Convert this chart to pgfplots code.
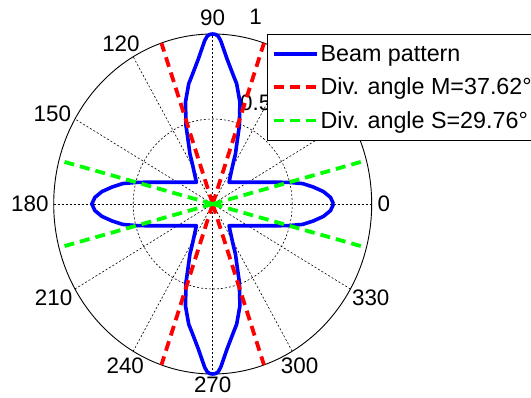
\documentclass[border=0pt]{standalone}
\usepackage{pgfplots}
\pgfplotsset{compat=1.18}
\usepackage{fontspec}
\setmainfont{Liberation Sans}
\newcommand{\lblfont}{\fontsize{22.4}{27}\selectfont}
\newcommand{\legfont}{\fontsize{23.3}{28}\selectfont}
\begin{document}
\begin{tikzpicture}
\begin{axis}[
  anchor=origin, at={(0pt,0pt)},
  x=159pt, y=170pt,
  xmin=-1, xmax=1, ymin=-1, ymax=1,
  hide axis, clip=false,
  legend style={at={(0.672,1.0)}, anchor=north west, draw=black, line width=0.8pt,
    fill=white, font=\legfont, inner xsep=4pt, inner ysep=9pt, row sep=11pt},
  legend cell align=left,
  legend image code/.code={\draw[#1] (0pt,0pt) -- (41pt,0pt); \path (0pt,0pt) -- (43pt,0pt);},
]
% grid
\draw[black, line width=0.9pt] (axis cs:0,0) ellipse [x radius=1, y radius=1];
\draw[black, line width=0.6pt, dash pattern=on 2pt off 2pt] (axis cs:0,0) ellipse [x radius=0.5, y radius=0.5];
\draw[black, line width=0.6pt, dash pattern=on 2pt off 2pt] (axis cs:-1,0) -- (axis cs:1,0);
\draw[black, line width=0.6pt, dash pattern=on 2pt off 2pt] (axis cs:-0.866,-0.5) -- (axis cs:0.866,0.5);
\draw[black, line width=0.6pt, dash pattern=on 2pt off 2pt] (axis cs:-0.5,-0.866) -- (axis cs:0.5,0.866);
\draw[black, line width=0.6pt, dash pattern=on 2pt off 2pt] (axis cs:0,-1) -- (axis cs:0,1);
\draw[black, line width=0.6pt, dash pattern=on 2pt off 2pt] (axis cs:0.5,-0.866) -- (axis cs:-0.5,0.866);
\draw[black, line width=0.6pt, dash pattern=on 2pt off 2pt] (axis cs:0.866,-0.5) -- (axis cs:-0.866,0.5);
% labels
\node[font=\lblfont, inner sep=0pt] at (axis cs:0,1.094) {90};
\node[font=\lblfont, inner sep=0pt] at (axis cs:0.27,1.10) {1};
\node[font=\lblfont, inner sep=0pt, anchor=west] at (axis cs:0.172,0.594) {0.5};
\node[font=\lblfont, inner sep=0pt] at (axis cs:-0.577,0.941) {120};
\node[font=\lblfont, inner sep=0pt] at (axis cs:-1.008,0.533) {150};
\node[font=\lblfont, inner sep=0pt, anchor=east] at (axis cs:-1.031,0) {180};
\node[font=\lblfont, inner sep=0pt] at (axis cs:-1.001,-0.553) {210};
\node[font=\lblfont, inner sep=0pt] at (axis cs:-0.550,-0.951) {240};
\node[font=\lblfont, inner sep=0pt] at (axis cs:0,-1.066) {270};
\node[font=\lblfont, inner sep=0pt] at (axis cs:0.547,-0.951) {300};
\node[font=\lblfont, inner sep=0pt] at (axis cs:0.994,-0.553) {330};
\node[font=\lblfont, inner sep=0pt, anchor=west] at (axis cs:1.036,0) {0};
% beam pattern (angle in degrees, radius)
\addplot[blue, line width=3.6pt, line join=round, data cs=polar] coordinates {
(0,0.760) (3,0.742) (6,0.700) (9,0.640) (12,0.578) (15,0.492) (18,0.414) (21,0.357)
(24,0.315) (27,0.282) (30,0.256) (33,0.235) (36,0.218) (40,0.199) (44,0.184) (48,0.172)
(51,0.164) (53,0.175) (56,0.199) (60,0.244) (62,0.277) (64,0.326) (66,0.366) (68,0.418)
(70,0.491) (72,0.547) (74,0.622) (76,0.669) (78,0.724) (80,0.762) (82,0.807) (84,0.859)
(86,0.925) (87,0.962) (88,0.988) (89,0.998) (90,1.000)
(91,0.998) (92,0.988) (93,0.962) (94,0.925) (96,0.859) (98,0.807) (100,0.762) (102,0.724)
(104,0.669) (106,0.622) (108,0.547) (110,0.491) (112,0.418) (114,0.366) (116,0.326) (118,0.277)
(120,0.244) (124,0.199) (127,0.175) (129,0.164) (132,0.172) (136,0.184) (140,0.199) (144,0.218)
(147,0.235) (150,0.256) (153,0.282) (156,0.315) (159,0.357) (162,0.414) (165,0.492) (168,0.578)
(171,0.640) (174,0.700) (177,0.742) (180,0.760)
(183,0.742) (186,0.700) (189,0.640) (192,0.578) (195,0.492) (198,0.414) (201,0.357) (204,0.315)
(207,0.282) (210,0.256) (213,0.235) (216,0.218) (220,0.199) (224,0.184) (228,0.172) (231,0.164)
(233,0.175) (236,0.199) (240,0.244) (242,0.277) (244,0.326) (246,0.366) (248,0.418) (250,0.491)
(252,0.547) (254,0.622) (256,0.669) (258,0.724) (260,0.762) (262,0.807) (264,0.859) (266,0.925)
(267,0.962) (268,0.988) (269,0.998) (270,1.000)
(271,0.998) (272,0.988) (273,0.962) (274,0.925) (276,0.859) (278,0.807) (280,0.762) (282,0.724)
(284,0.669) (286,0.622) (288,0.547) (290,0.491) (292,0.418) (294,0.366) (296,0.326) (298,0.277)
(300,0.244) (304,0.199) (307,0.175) (309,0.164) (312,0.172) (316,0.184) (320,0.199) (324,0.218)
(327,0.235) (330,0.256) (333,0.282) (336,0.315) (339,0.357) (342,0.414) (345,0.492) (348,0.578)
(351,0.640) (354,0.700) (357,0.742) (360,0.760)
};
\addlegendentry{Beam pattern}
% divergence angle M lines
\addplot[red, line width=3.8pt, dash pattern=on 10pt off 6pt, data cs=polar] coordinates {(71.19,0) (71.19,1)};
\addlegendentry{Div. angle M=37.62°}
\addplot[red, line width=3.8pt, dash pattern=on 10pt off 6pt, data cs=polar, forget plot] coordinates {(108.81,0) (108.81,1)};
\addplot[red, line width=3.8pt, dash pattern=on 10pt off 6pt, data cs=polar, forget plot] coordinates {(251.19,0) (251.19,1)};
\addplot[red, line width=3.8pt, dash pattern=on 10pt off 6pt, data cs=polar, forget plot] coordinates {(288.81,0) (288.81,1)};
% divergence angle S lines
\addplot[green, line width=3.8pt, dash pattern=on 10pt off 6pt, data cs=polar] coordinates {(14.88,0) (14.88,1)};
\addlegendentry{Div. angle S=29.76°}
\addplot[green, line width=3.8pt, dash pattern=on 10pt off 6pt, data cs=polar, forget plot] coordinates {(165.12,0) (165.12,1)};
\addplot[green, line width=3.8pt, dash pattern=on 10pt off 6pt, data cs=polar, forget plot] coordinates {(194.88,0) (194.88,1)};
\addplot[green, line width=3.8pt, dash pattern=on 10pt off 6pt, data cs=polar, forget plot] coordinates {(345.12,0) (345.12,1)};
\end{axis}
\pgfresetboundingbox
\path[use as bounding box] (-212.7pt,-194pt) rectangle (318.3pt,204pt);
\end{tikzpicture}
\end{document}
